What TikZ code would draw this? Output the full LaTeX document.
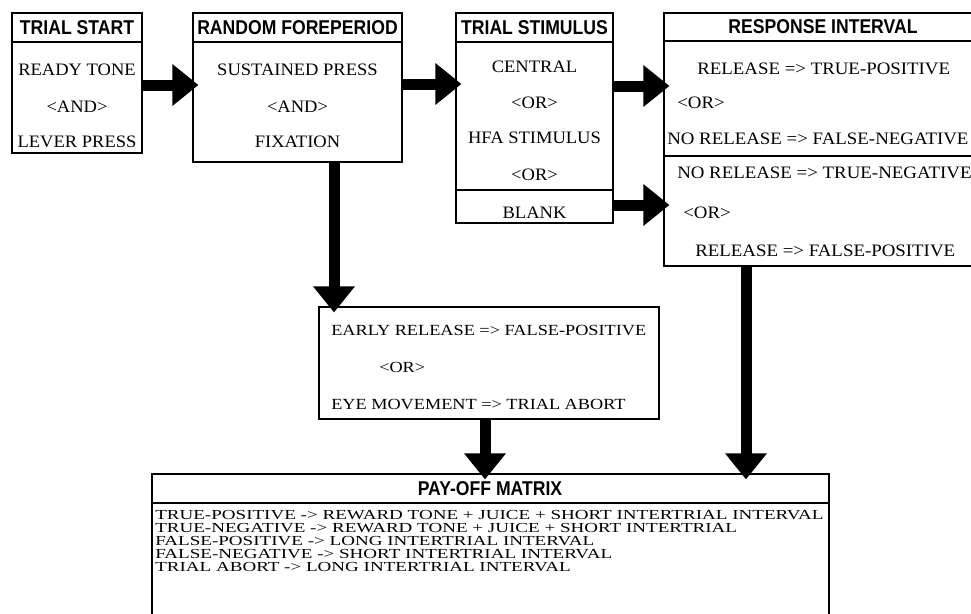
\documentclass[tikz,border=0pt]{standalone}
\usepackage{fontspec}
\usetikzlibrary{arrows.meta,fit}
\newfontfamily\ttlfont[FakeStretch=0.88]{Liberation Sans}
\newfontfamily\bodyfont[FakeStretch=1.06]{Liberation Serif}
\newfontfamily\respfont[FakeStretch=1.08]{Liberation Serif}
\newfontfamily\midfont[FakeStretch=1.18]{Liberation Serif}
\newfontfamily\payfont[FakeStretch=1.38]{Liberation Serif}
\begin{document}
\begin{tikzpicture}[x=0.75pt,y=-0.75pt,
  box/.style={draw, line width=0.8pt, inner sep=0pt},
  ttl/.style={font=\ttlfont\bfseries\fontsize{15pt}{18pt}\selectfont, inner sep=0pt},
  txt/.style={font=\bodyfont\fontsize{13.1pt}{16pt}\selectfont, inner sep=0pt},
  rtxt/.style={font=\respfont\fontsize{13.1pt}{16pt}\selectfont, inner sep=0pt, anchor=west},
  mtxt/.style={font=\midfont\fontsize{11.6pt}{14pt}\selectfont, inner sep=0pt, anchor=west},
  ptxt/.style={font=\payfont\fontsize{10.35pt}{9.6pt}\selectfont, inner sep=0pt, align=left, anchor=north west},
  sepline/.style={line width=0.8pt},
  fat/.style={line width=8.25pt, -{Triangle[width=30pt,length=19.5pt]}, shorten >=-4.5pt}]
\useasboundingbox (0,0) rectangle (971,614);

% boxes
\node[box, fit={(12,13) (142,153)}] (ts) {};
\node[box, fit={(193,13) (402,162)}] (rf) {};
\node[box, fit={(456,13) (613,223)}] (stim) {};
\node[box, fit={(664,13) (985,266)}] (resp) {};
\node[box, fit={(319,307) (659,419)}] (mid) {};
\node[box, fit={(152,474) (829,630)}] (pay) {};

% separators
\draw[sepline] (ts.west |- 0,42) -- (ts.east |- 0,42);
\draw[sepline] (rf.west |- 0,42) -- (rf.east |- 0,42);
\draw[sepline] (stim.west |- 0,42) -- (stim.east |- 0,42);
\draw[sepline] (stim.west |- 0,190) -- (stim.east |- 0,190);
\draw[sepline] (resp.west |- 0,41) -- (resp.east |- 0,41);
\draw[sepline] (resp.west |- 0,156) -- (resp.east |- 0,156);
\draw[sepline] (pay.west |- 0,503) -- (pay.east |- 0,503);

% titles
\node[ttl] (t1) at (77,27.5) {TRIAL START};
\node[ttl] (t2) at (297.5,27.5) {RANDOM FOREPERIOD};
\node[ttl] (t3) at (534.5,27.5) {TRIAL STIMULUS};
\node[ttl] (t4) at (823,27) {RESPONSE INTERVAL};
\node[ttl] (t5) at (490,489) {PAY-OFF MATRIX};

% trial start
\node[txt] (a1) at (77,70) {READY TONE};
\node[txt] (a2) at (77,107) {<AND>};
\node[txt] (a3) at (77,142) {LEVER PRESS};
% foreperiod
\node[txt] (b1) at (297.5,70) {SUSTAINED PRESS};
\node[txt] (b2) at (297.5,107) {<AND>};
\node[txt] (b3) at (297.5,142) {FIXATION};
% stimulus
\node[txt] (c1) at (534.5,67) {CENTRAL};
\node[txt] (c2) at (534.5,103) {<OR>};
\node[txt] (c3) at (534.5,138) {HFA STIMULUS};
\node[txt] (c4) at (534.5,175) {<OR>};
\node[txt] (c5) at (534.5,213) {BLANK};
% response
\node[rtxt] (d1) at (697,69) {RELEASE => TRUE-POSITIVE};
\node[rtxt] (d2) at (677,103) {<OR>};
\node[rtxt] (d3) at (667,139) {NO RELEASE => FALSE-NEGATIVE};
\node[rtxt] (d4) at (677,173) {NO RELEASE => TRUE-NEGATIVE};
\node[rtxt] (d5) at (683,213) {<OR>};
\node[rtxt] (d6) at (695,251) {RELEASE => FALSE-POSITIVE};
% middle
\node[mtxt] (e1) at (331,330) {EARLY RELEASE => FALSE-POSITIVE};
\node[mtxt] (e2) at (379,367) {<OR>};
\node[mtxt] (e3) at (331,404) {EYE MOVEMENT => TRIAL ABORT};
% payoff
\node[ptxt] (p1) at (155,510.5) {TRUE-POSITIVE -> REWARD TONE + JUICE + SHORT INTERTRIAL INTERVAL\\
TRUE-NEGATIVE -> REWARD TONE + JUICE + SHORT INTERTRIAL\\
FALSE-POSITIVE -> LONG INTERTRIAL INTERVAL\\
FALSE-NEGATIVE -> SHORT INTERTRIAL INTERVAL\\
TRIAL ABORT -> LONG INTERTRIAL INTERVAL};

% arrows
\draw[fat] (ts.east |- 0,85) -- (rf.west |- 0,85);
\draw[fat] (rf.east |- 0,84) -- (stim.west |- 0,84);
\draw[fat] (stim.east |- 0,86) -- (resp.west |- 0,86);
\draw[fat] (stim.east |- 0,205) -- (resp.west |- 0,205);
\draw[fat] (rf.south -| 334,0) -- (mid.north -| 334,0);
\draw[fat] (mid.south -| 485,0) -- (pay.north -| 485,0);
\draw[fat] (resp.south -| 746,0) -- (pay.north -| 746,0);
\end{tikzpicture}
\end{document}
